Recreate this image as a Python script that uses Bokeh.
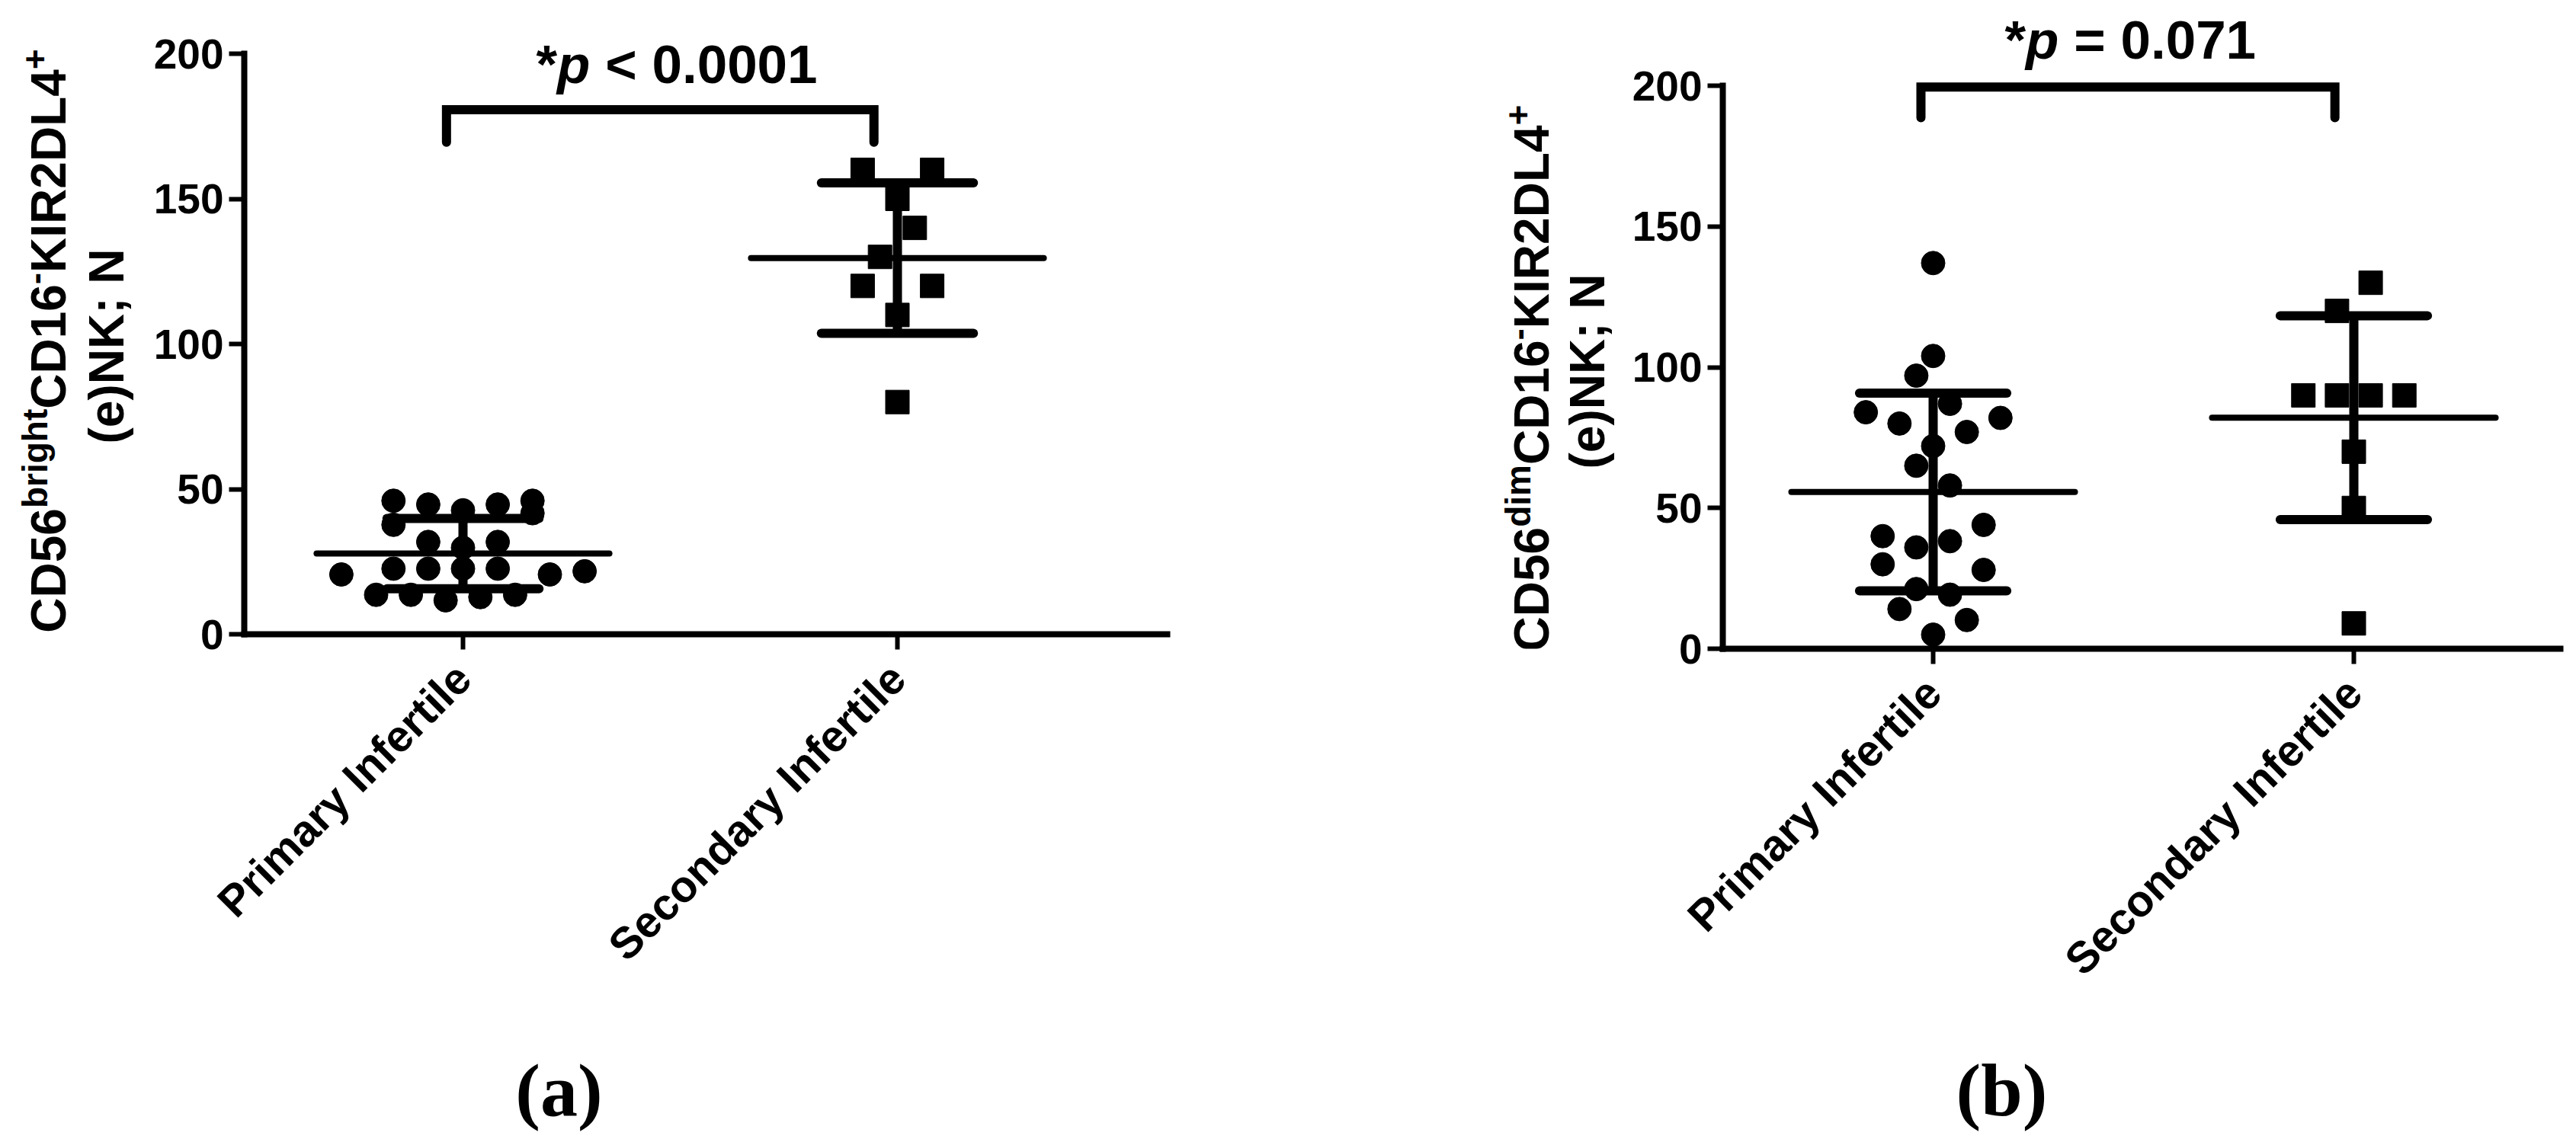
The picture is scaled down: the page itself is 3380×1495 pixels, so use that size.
import math
from bokeh.plotting import figure
from bokeh.models import Range1d, FixedTicker, Label
from bokeh.layouts import row, column
from bokeh.embed import file_html
from bokeh.resources import INLINE

# ---------------- data ----------------
categories = ["Primary Infertile", "Secondary Infertile"]
y_ticks = [0, 50, 100, 150, 200]

# panel (a)  CD56bright CD16- KIR2DL4+
a_primary = [46.0, 44.7, 42.7, 44.7, 46.0, 41.7, 37.7, 31.8, 29.8, 31.8, 20.6,
             22.6, 22.6, 22.6, 22.6, 20.6, 21.7, 13.6, 13.6, 11.7, 12.8, 13.6]
a_primary_slot = [-4, -2, 0, 2, 4, 4, -4, -2, 0, 2, -7, -4, -2, 0, 2, 5, 7, -5, -3, -1, 1, 3]
a_secondary = [160, 160, 150, 140, 130, 120, 120, 110, 80]
a_secondary_slot = [-2, 2, 0, 1, -1, -2, 2, 0, 0]
a_mean = [27.8, 129.6]
a_sd = [12.1, 25.9]
a_p = "< 0.0001"

# panel (b)  CD56dim CD16- KIR2DL4+
b_primary = [137, 104, 97, 84, 87, 82, 80, 77, 72, 65, 58, 44, 40, 38.2, 36, 30,
             28, 21.2, 19.2, 14.1, 10.2, 5]
b_primary_slot = [0, 0, -1, -4, 1, 4, -2, 2, 0, -1, 1, 3, -3, 1, -1, -3, 3, -1, 1, -2, 2, 0]
b_secondary = [130, 120, 90, 90, 90, 90, 70, 50, 9]
b_secondary_slot = [1, -1, -3, -1, 1, 3, 0, 0, 0]
b_mean = [55.7, 82.1]
b_sd = [35.1, 36.2]
b_p = "= 0.071"

# ---------------- styling / layout ----------------
SLOT = 0.04
SANS = "Liberation Sans"
SERIF = "Liberation Serif"
TOP = 5          # common top border of all figures in the row
BOTTOM = 480     # common bottom border of all figures in the row
FB_MAX = 851
ROW_H = FB_MAX + BOTTOM
MID = 0.40       # distance baseline -> middle of text box, fraction of font size

AW = {'C': .722, 'D': .722, '5': .556, '6': .556, '1': .556, '2': .556, '4': .556,
      'K': .722, 'I': .278, 'R': .722, 'L': .611, 'b': .611, 'r': .389, 'i': .278,
      'g': .611, 'h': .611, 't': .333, 'd': .611, 'm': .889, '-': .333, '+': .584,
      '(': .333, ')': .333, 'e': .556, 'N': .722, ';': .333, ' ': .278, '*': .389,
      'p': .611}


def tw(s, size):
    return sum(AW.get(c, .556) for c in s) * size


def blank(f):
    f.outline_line_color = None
    f.grid.visible = False
    f.background_fill_color = "white"
    f.border_fill_color = "white"


def title_fig(x0, x1):
    """Figure holding a rotated y title; data coords equal page pixels in its frame."""
    f = figure(width=x1 - x0, height=ROW_H, x_range=Range1d(x0, x1),
               y_range=Range1d(FB_MAX, TOP), output_backend="svg", toolbar_location=None,
               x_axis_location=None, y_axis_location=None,
               min_border_left=0, min_border_right=0,
               min_border_top=TOP, min_border_bottom=BOTTOM)
    blank(f)
    return f


def rot_text(f, x_base, y_center, text, size):
    # text rotated 90 deg (reads upward); x_base = page x of its baseline
    f.add_layout(Label(x=x_base - MID * size, y=y_center, text=text, angle=math.pi / 2,
                       text_align="center", text_baseline="middle", text_font=SANS,
                       text_font_size=f"{size}px", text_font_style="bold",
                       text_color="black"))


def y_title(f, geo, sup_word):
    fs, ss, raise_ = 64, 46, 25
    pieces = [("CD56", False), (sup_word, True), ("CD16", False), ("-", True),
              ("KIR2DL4", False), ("+", True)]
    total = sum(tw(t, ss if sup else fs) for t, sup in pieces)
    pos = geo["c1"] + total / 2
    for t, sup in pieces:
        size = ss if sup else fs
        w = tw(t, size)
        rot_text(f, geo["t1"] - (raise_ if sup else 0), pos - w / 2, t, size)
        pos -= w
    rot_text(f, geo["t2"], geo["c2"], "(e)NK; N", fs)


def make_panel(geo, prim, prim_slot, sec, sec_slot, means, sds, bracket, p_rest):
    FL, FR, FB = geo["FL"], geo["FR"], geo["FB"]
    H = FB + BOTTOM
    ppx, ppy = geo["ppx"], geo["ppy"]
    x_start = 1 - (geo["tick1"] - FL) / ppx
    x_end = x_start + (FR - FL) / ppx
    y_end = (FB - TOP) / ppy

    def dx(px):
        return x_start + (px - FL) / ppx

    def dy(py):
        return (FB - py) / ppy

    p = figure(width=geo["W"], height=H,
               x_range=Range1d(x_start, x_end), y_range=Range1d(0, y_end),
               output_backend="svg", toolbar_location=None,
               min_border_left=FL - geo["left"], min_border_right=geo["left"] + geo["W"] - FR,
               min_border_top=TOP, min_border_bottom=BOTTOM)
    blank(p)

    for ax in (p.xaxis[0], p.yaxis[0]):
        ax.axis_line_width = 8
        ax.axis_line_color = "black"
        ax.axis_line_cap = "square"
        ax.major_tick_line_width = 6
        ax.major_tick_line_color = "black"
        ax.major_tick_in = 0
        ax.major_tick_out = 20
        ax.minor_tick_line_color = None
        ax.major_label_text_color = "black"
        ax.major_label_text_font = SANS
        ax.major_label_text_font_style = "bold"

    ya = p.yaxis[0]
    ya.ticker = FixedTicker(ticks=y_ticks)
    ya.bounds = (0, 200)
    ya.major_label_text_font_size = "55px"
    ya.major_label_standoff = 7

    xa = p.xaxis[0]
    xa.ticker = FixedTicker(ticks=[1, 2])
    xa.major_label_overrides = {1: categories[0], 2: categories[1]}
    xa.major_label_orientation = math.pi / 4
    xa.major_label_text_font_size = "58px"
    xa.major_label_standoff = 28

    # points
    p.scatter(x=[1 + s * SLOT for s in prim_slot], y=prim, marker="circle",
              size=31, color="black")
    p.scatter(x=[2 + s * SLOT for s in sec_slot], y=sec, marker="square",
              size=31, color="black")

    cats = [1, 2]
    # mean lines
    p.segment(x0=[c - 0.337 for c in cats], x1=[c + 0.337 for c in cats],
              y0=means, y1=means, line_width=8, line_color="black", line_cap="round")
    # SD bars
    lo = [m - s for m, s in zip(means, sds)]
    hi = [m + s for m, s in zip(means, sds)]
    p.segment(x0=cats, x1=cats, y0=lo, y1=hi, line_width=12, line_color="black")
    p.segment(x0=[c - 0.175 for c in cats] * 2, x1=[c + 0.175 for c in cats] * 2,
              y0=lo + hi, y1=lo + hi, line_width=12, line_color="black", line_cap="round")

    # significance bracket
    bx0, bx1, by_bar, by_leg = bracket
    p.line(x=[bx0, bx0, bx1, bx1], y=[by_leg, by_bar, by_bar, by_leg],
           line_width=12, line_color="black", line_join="miter", line_cap="round")

    # p-value text: "*" + italic "p" + rest
    ps = 71
    L, base = geo["p_anchor"]
    for xx, t, st in ((L, "*", "bold"),
                      (L + AW['*'] * ps, "p", "bold italic"),
                      (L + (AW['*'] + AW['p'] + AW[' ']) * ps, p_rest, "bold")):
        p.add_layout(Label(x=dx(xx), y=dy(base - MID * ps), text=t, text_align="left",
                           text_baseline="middle", text_font=SANS,
                           text_font_size=f"{ps}px", text_font_style=st,
                           text_color="black"))
    return p


geo_a = dict(left=190, W=1508, FL=320, FR=1531, FB=832, ppx=570, ppy=3.81,
             tick1=607, p_anchor=(703, 112))
geo_b = dict(left=2130, W=1250, FL=2260, FR=3359, FB=851, ppx=552, ppy=3.695,
             tick1=2536, p_anchor=(2630, 80))

pa = make_panel(geo_a, a_primary, a_primary_slot, a_secondary, a_secondary_slot,
                a_mean, a_sd, (0.962, 1.946, 180.7, 169.5), a_p)
pb = make_panel(geo_b, b_primary, b_primary_slot, b_secondary, b_secondary_slot,
                b_mean, b_sd, (0.971, 1.955, 199.5, 188.6), b_p)

ta = title_fig(0, 190)
y_title(ta, dict(t1=89, c1=447, t2=165, c2=454), "bright")
tb = title_fig(1698, 2130)
y_title(tb, dict(t1=2035, c1=496, t2=2108, c2=487), "dim")

# panel tags below
TAG_H = 1495 - ROW_H
tags = figure(width=3380, height=TAG_H, x_range=Range1d(0, 3380),
              y_range=Range1d(1495, ROW_H), output_backend="svg", toolbar_location=None,
              x_axis_location=None, y_axis_location=None, min_border=0)
blank(tags)
for cx, t in ((733, "(a)"), (2626, "(b)")):
    tags.add_layout(Label(x=cx, y=1465 - 0.35 * 98, text=t, text_align="center",
                          text_baseline="alphabetic", text_font=SERIF,
                          text_font_size="98px", text_font_style="bold",
                          text_color="black"))

layout = column(row(ta, pa, tb, pb), tags)
open("out.html", "w").write(file_html(layout, INLINE))
